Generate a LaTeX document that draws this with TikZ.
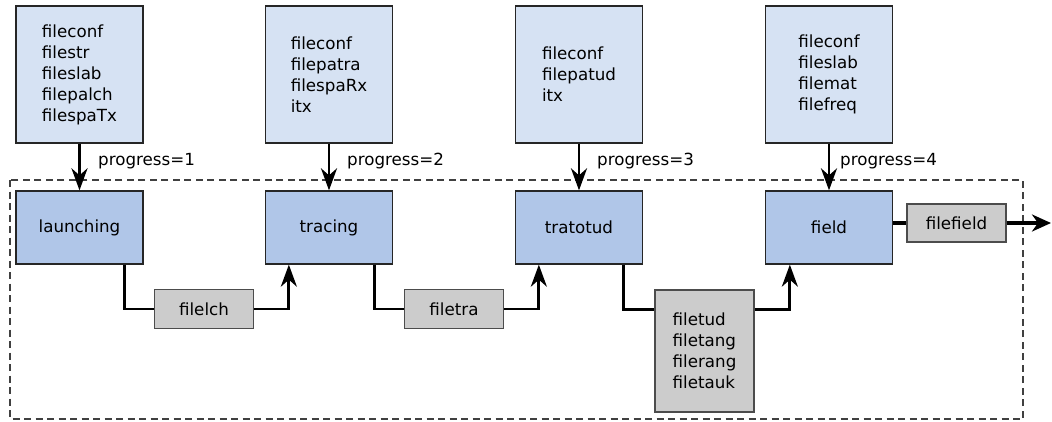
\documentclass[tikz,border=0pt]{standalone}
\usepackage{fontspec}
\setmainfont{DejaVu Sans}
\usetikzlibrary{arrows.meta,calc}
\definecolor{toplight}{RGB}{214,226,243}
\definecolor{procblue}{RGB}{176,198,232}
\definecolor{filegray}{RGB}{204,204,204}
\begin{document}
\begin{tikzpicture}[x=1pt,y=-1pt,
  font=\fontsize{16.7}{21}\selectfont,
  inbox/.style={draw=black!85,line width=1.3pt,fill=toplight,align=left,minimum width=127pt,minimum height=137pt,inner sep=0pt},
  procbox/.style={draw=black!85,line width=1.3pt,fill=procblue,minimum width=127pt,minimum height=73pt,inner sep=0pt},
  filebox/.style={draw=black!70,line width=1.3pt,fill=filegray,align=left,minimum width=99pt,minimum height=39pt,inner sep=0pt},
  conn/.style={line width=2.9pt,line join=miter},
  arr/.style={line width=2.9pt,line join=miter,-{Stealth[length=22pt,width=16pt,inset=7pt]}},
  lbl/.style={anchor=west,inner sep=0pt}]
\useasboundingbox (0,0) rectangle (1052,421);
\draw[black!75,line width=1.1pt,dash pattern=on 7pt off 4.5pt] (10,180) rectangle (1023,419);
% input boxes
\node[inbox] (in1) at (79.5,74.5) {fileconf\\filestr\\fileslab\\filepalch\\filespaTx};
\node[inbox] (in2) at (329,74.5) {fileconf\\filepatra\\filespaRx\\itx};
\node[inbox] (in3) at (579,74.5) {fileconf\\filepatud\\itx};
\node[inbox] (in4) at (829,74.5) {fileconf\\fileslab\\filemat\\filefreq};
% process boxes
\node[procbox] (launch) at (79.5,227.5) {launching};
\node[procbox] (trace) at (329,227.5) {tracing};
\node[procbox] (trato) at (579,227.5) {tratotud};
\node[procbox] (field) at (829,227.5) {field};
% file boxes
\node[filebox] (lch) at (204,309) {filelch};
\node[filebox] (tra) at (454,309) {filetra};
\node[filebox,minimum height=122pt] (tud) at (704.5,351) {filetud\\filetang\\filerang\\filetauk};
\node[filebox,minimum height=38pt] (ffield) at (956.5,223) {filefield};
% progress arrows
\draw[arr] (in1) -- (launch);
\draw[arr] (in2) -- (trace);
\draw[arr] (in3) -- (trato);
\draw[arr] (in4) -- (field);
\node[lbl] (p1) at (98,161) {progress=1};
\node[lbl] (p2) at (347,161) {progress=2};
\node[lbl] (p3) at (597,161) {progress=3};
\node[lbl] (p4) at (840,161) {progress=4};
% data flow
\draw[conn] ($(launch.south east)+(-19,0)$) |- (lch.west);
\draw[arr] (lch.east) -| ($(trace.south west)+(24,0)$);
\draw[conn] ($(trace.south east)+(-19,0)$) |- (tra.west);
\draw[arr] (tra.east) -| ($(trato.south west)+(24,0)$);
\draw[conn] ($(trato.south east)+(-20,0)$) |- ($(tud.north west)+(0,20)$);
\draw[arr] ($(tud.north east)+(0,20)$) -| ($(field.south west)+(25,0)$);
\coordinate (out) at (1051,223);
\draw[line width=4.2pt] (field.east |- ffield.west) -- (ffield.west);
\draw[line width=4.2pt,-{Stealth[length=19pt,width=17pt,inset=6pt]}] (ffield.east) -- (out);
\end{tikzpicture}
\end{document}
